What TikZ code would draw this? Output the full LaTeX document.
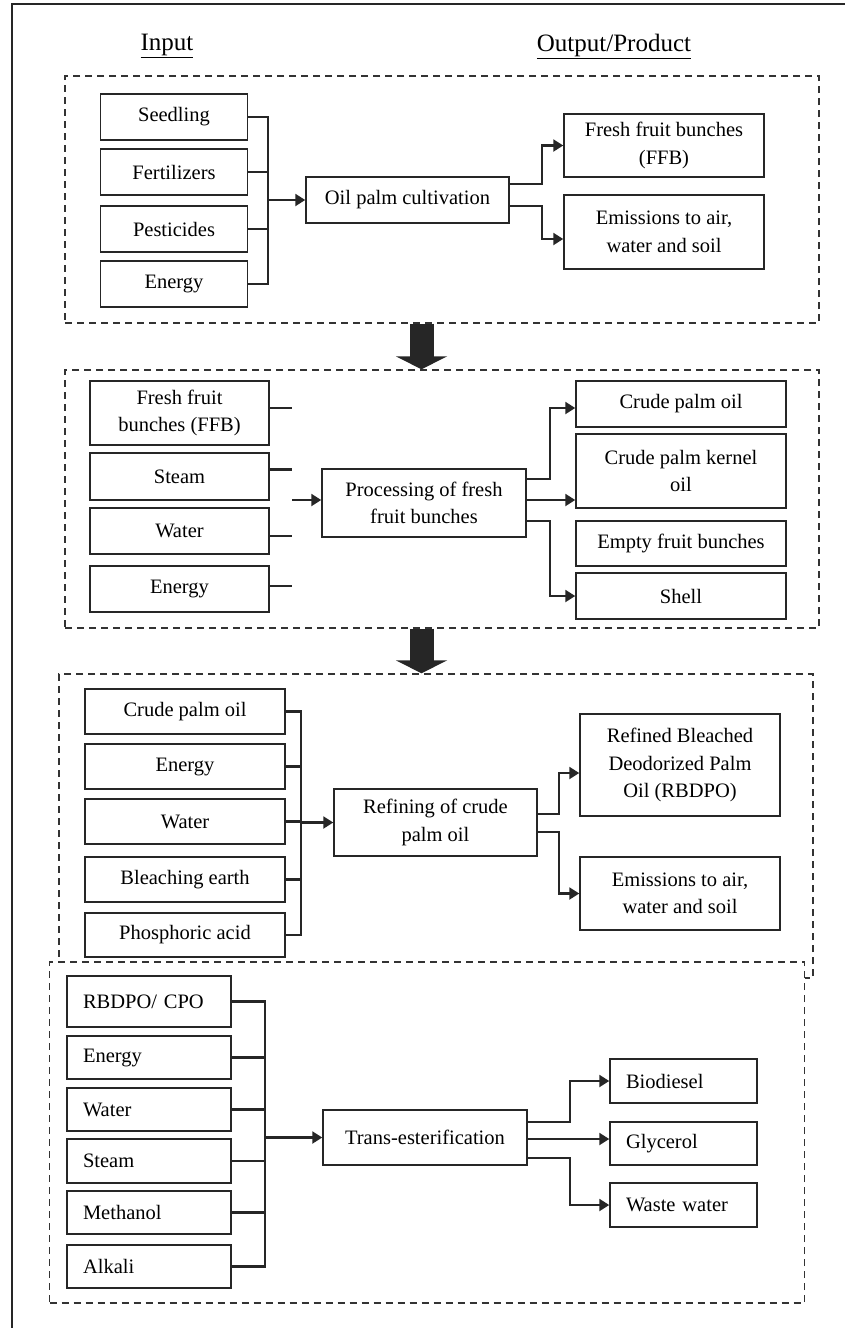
\documentclass[tikz,border=0pt]{standalone}
\usepackage{fontspec}
\setmainfont{Liberation Serif}
\usetikzlibrary{arrows.meta, positioning}

\begin{document}
\begin{tikzpicture}[x=1pt, y=-1pt,
    font=\fontsize{20.5}{27.5}\selectfont,
    item/.style={draw=black!85, line width=1.5pt, align=center, inner sep=2pt},
    leftitem/.style={item, align=left, inner xsep=16pt, text width=#1},
    stagebox/.style={draw=black!80, line width=1.4pt, dash pattern=on 7pt off 5pt, fill=white},
    heading/.style={font=\fontsize{25}{30}\selectfont},
    link/.style={draw=black!85, line width=2.2pt},
    feed/.style={link, -{Triangle[length=10pt, width=12pt]}},
    flow/.style={draw=black!85, line width=24pt, -{Triangle[length=13pt, width=51pt]}}]

  \useasboundingbox (0,0) rectangle (844,1328);
  % Outer frame, cut off at the right and bottom
  \draw[black!85, line width=1.6pt] (12,1340) -- (12,4) -- (856,4);

  % Stage boxes (the last one covers the bottom of the third)
  \node[stagebox, minimum width=754pt, minimum height=247pt] (s1) at (442,199.5) {};
  \node[stagebox, minimum width=754pt, minimum height=258pt] (s2) at (442,499) {};
  \node[stagebox, minimum width=754pt, minimum height=304pt] (s3) at (436,826) {};
  \node[stagebox, minimum width=755pt, minimum height=341pt] (s4) at (427,1132.5) {};

  % Column titles
  \node[heading] (intitle) at (167,46) {\underline{Input}};
  \node[heading] (outtitle) at (614,46) {\underline{Output/Product}};

  % Big arrows between stages
  \coordinate (mid) at (421.5,0);
  \draw[flow] (s1.south -| mid) -- (s2.north -| mid);
  \draw[flow] (s2.south -| mid) -- (s3.north -| mid);

  % Stage 1: cultivation
  \node[item, minimum width=147pt, minimum height=46pt] (seed) at (174,117) {Seedling};
  \node[item, minimum width=147pt, minimum height=46pt] (fert) at (174,172) {Fertilizers};
  \node[item, minimum width=147pt, minimum height=46pt] (pest) at (174,229) {Pesticides};
  \node[item, minimum width=147pt, minimum height=46pt] (enA) at (174,284) {Energy};
  \node[item, minimum width=203pt, minimum height=46pt] (cult) at (407.5,200) {Oil palm cultivation};
  \node[item, minimum width=200pt, minimum height=63pt] (ffbA) at (664,145.5) {Fresh fruit bunches\\(FFB)};
  \node[item, minimum width=200pt, minimum height=74pt] (emA) at (664,232) {Emissions to air,\\water and soil};

  \coordinate (busA) at (268,0);
  \draw[link] (seed.east) -- (seed.east -| busA) -- (enA.east -| busA) -- (enA.east);
  \draw[link] (fert.east) -- (fert.east -| busA);
  \draw[link] (pest.east) -- (pest.east -| busA);
  \draw[feed] (cult.west -| busA) -- (cult.west);
  \draw[feed] ([yshift=16pt]cult.east) -- ++(32,0) |- (ffbA.west);
  \draw[feed] ([yshift=-6pt]cult.east) -- ++(32,0) |- ([yshift=-7pt]emA.west);

  % Stage 2: processing of FFB
  \node[item, minimum width=179pt, minimum height=64pt] (ffbB) at (179.5,413) {Fresh fruit\\bunches (FFB)};
  \node[item, minimum width=179pt, minimum height=47pt] (steamB) at (179.5,476.5) {Steam};
  \node[item, minimum width=179pt, minimum height=46pt] (waterB) at (179.5,531) {Water};
  \node[item, minimum width=179pt, minimum height=46pt] (enB) at (179.5,589) {Energy};
  \node[item, minimum width=204pt, minimum height=68pt] (proc) at (424,503) {Processing of fresh\\fruit bunches};
  \node[item, minimum width=210pt, minimum height=46pt] (cpoB) at (681,404) {Crude palm oil};
  \node[item, minimum width=210pt, minimum height=74pt] (cpko) at (681,471) {Crude palm kernel\\oil};
  \node[item, minimum width=210pt, minimum height=45pt] (efb) at (681,543.5) {Empty fruit bunches};
  \node[item, minimum width=210pt, minimum height=46pt] (shell) at (681,596) {Shell};

  \draw[link] ([yshift=5pt]ffbB.east) -- ++(22,0);
  \draw[link] ([yshift=7pt]steamB.east) -- ++(22,0);
  \draw[link] ([yshift=-5pt]waterB.east) -- ++(22,0);
  \draw[link] ([yshift=3pt]enB.east) -- ++(22,0);
  \draw[feed] ([shift={(-29pt,3pt)}]proc.west) -- ([yshift=3pt]proc.west);
  \draw[feed] ([yshift=24pt]proc.east) -- ++(23,0) |- ([yshift=-4pt]cpoB.west);
  \draw[feed] ([yshift=3pt]proc.east) -- ([yshift=3pt]proc.east -| cpko.west);
  \draw[feed] ([yshift=-18pt]proc.east) -- ++(23,0) |- (shell.west);

  % Stage 3: refining
  \node[item, minimum width=200pt, minimum height=45pt] (cpoC) at (185,711.5) {Crude palm oil};
  \node[item, minimum width=200pt, minimum height=45pt] (enC) at (185,766.5) {Energy};
  \node[item, minimum width=200pt, minimum height=45pt] (waterC) at (185,821.5) {Water};
  \node[item, minimum width=200pt, minimum height=45pt] (bleach) at (185,879.5) {Bleaching earth};
  \node[item, minimum width=200pt, minimum height=44pt] (phos) at (185,935) {Phosphoric acid};
  \node[item, minimum width=203pt, minimum height=67pt] (refine) at (435.5,822.5) {Refining of crude\\palm oil};
  \node[item, minimum width=200pt, minimum height=102pt] (rbdpo) at (680,765) {Refined Bleached\\Deodorized Palm\\Oil (RBDPO)};
  \node[item, minimum width=200pt, minimum height=73pt] (emC) at (680,893.5) {Emissions to air,\\water and soil};

  \coordinate (busC) at (301,0);
  \draw[link] (cpoC.east) -- (cpoC.east -| busC) -- (phos.east -| busC) -- (phos.east);
  \draw[link] (enC.east) -- (enC.east -| busC);
  \draw[link] (waterC.east) -- (waterC.east -| busC);
  \draw[link] (bleach.east) -- (bleach.east -| busC);
  \draw[feed] (refine.west -| busC) -- (refine.west);
  \draw[feed] ([yshift=8.5pt]refine.east) -- ++(21,0) |- ([yshift=-8pt]rbdpo.west);
  \draw[feed] ([yshift=-9.5pt]refine.east) -- ++(21,0) |- (emC.west);

  % Stage 4: trans-esterification
  \node[leftitem=132pt, minimum height=51pt] (rbcpo) at (149,1001.5) {RBDPO/ CPO};
  \node[leftitem=132pt, minimum height=43pt] (enD) at (149,1057.5) {Energy};
  \node[leftitem=132pt, minimum height=43pt] (waterD) at (149,1109.5) {Water};
  \node[leftitem=132pt, minimum height=44pt] (steamD) at (149,1161) {Steam};
  \node[leftitem=132pt, minimum height=43pt] (meth) at (149,1212.5) {Methanol};
  \node[leftitem=132pt, minimum height=43pt] (alk) at (149,1266.5) {Alkali};
  \node[item, minimum width=204pt, minimum height=55pt] (trans) at (425,1137.5) {Trans-esterification};
  \node[leftitem=115pt, minimum height=44pt] (bio) at (683.5,1081) {Biodiesel};
  \node[leftitem=115pt, minimum height=43pt] (gly) at (683.5,1143.5) {Glycerol};
  \node[leftitem=115pt, minimum height=44pt] (waste) at (683.5,1205) {Waste water};

  \coordinate (busD) at (265,0);
  \draw[link] (rbcpo.east) -- (rbcpo.east -| busD) -- (alk.east -| busD) -- (alk.east);
  \draw[link] (enD.east) -- (enD.east -| busD);
  \draw[link] (waterD.east) -- (waterD.east -| busD);
  \draw[link] (steamD.east) -- (steamD.east -| busD);
  \draw[link] (meth.east) -- (meth.east -| busD);
  \draw[feed] (trans.west -| busD) -- (trans.west);
  \draw[feed] ([yshift=15.5pt]trans.east) -- ++(42,0) |- (bio.west);
  \draw[feed] ([yshift=-1.5pt]trans.east) -- ([yshift=-1.5pt]trans.east -| gly.west);
  \draw[feed] ([yshift=-20.5pt]trans.east) -- ++(42,0) |- (waste.west);
\end{tikzpicture}
\end{document}
